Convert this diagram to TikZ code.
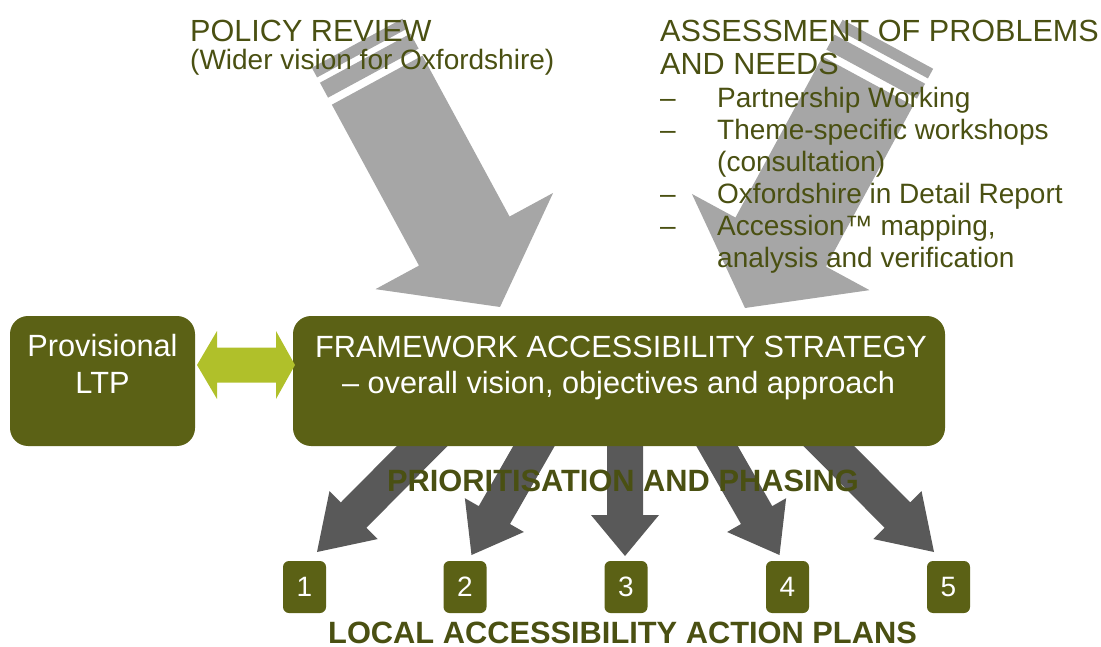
\documentclass[tikz,border=0pt]{standalone}
\usepackage{fontspec}
\setmainfont{Liberation Sans}
\usetikzlibrary{calc,backgrounds}

\definecolor{boxolive}{RGB}{91,97,21}
\definecolor{textolive}{RGB}{74,80,18}
\definecolor{inputgrey}{RGB}{166,166,166}
\definecolor{plangrey}{RGB}{89,89,89}
\definecolor{linkgreen}{RGB}{176,192,42}

\tikzset{
  headtext/.style={text=textolive, inner sep=0pt, anchor=base west, font=\fontsize{30.6}{36}\selectfont},
  listtext/.style={text=textolive, inner sep=0pt, anchor=base west, font=\fontsize{28}{34}\selectfont},
  boxtext/.style={text=white, inner sep=0pt, anchor=base, font=\fontsize{30.7}{36}\selectfont},
  bigtext/.style={text=textolive, inner sep=0pt, anchor=base, font=\fontsize{30.8}{36}\selectfont\bfseries},
  olivebox/.style={fill=boxolive, rounded corners=18pt, inner sep=0pt},
  planbox/.style={fill=boxolive, rounded corners=6pt, minimum width=43pt, minimum height=52pt,
    inner sep=0pt, text=white, font=\fontsize{28}{34}\selectfont},
}

% grey input arrow, two bands across the tail
\newcommand{\inputarrow}[2]{%
  \fill[inputgrey] let \p1=(#1), \p2=(#2), \n1={atan2(\y2-\y1,\x2-\x1)} in [shift={(#2)}, rotate=\n1]
    (0,0) -- (-75,101) -- (-75,51.5) -- (-258,51.5) -- (-258,-51.5) -- (-75,-51.5) -- (-75,-101) -- cycle
    (-266,-51.5) rectangle (-283,51.5)
    (-289,-51.5) rectangle (-300,51.5);}

% dark block arrow, strategy -> plan
\newcommand{\planarrow}[3]{%
  \fill[plangrey] let \p1=(#1), \p2=(#2), \n1={atan2(\y2-\y1,\x2-\x1)}, \n2={veclen(\x2-\x1,\y2-\y1)} in [shift={(#2)}, rotate=\n1]
    (0,0) -- (-#3,34) -- (-#3,18) -- (-\n2,18) -- (-\n2,-18) -- (-#3,-18) -- (-#3,-34) -- cycle;}

\begin{document}
\begin{tikzpicture}[x=1pt,y=-1pt]
	\useasboundingbox (0,0) rectangle (1101,647);

	% inputs
	\node[headtext] (policy) at (190,41.7) {POLICY REVIEW};
	\node[listtext] (vision) at (190,70) {(Wider vision for Oxfordshire)};
	\node[headtext] (assess) at (660,41.7) {ASSESSMENT OF PROBLEMS};
	\node[headtext] (needs) at (660,75) {AND NEEDS};
	\foreach \i/\yy/\txt in {1/108/Partnership Working, 2/140/Theme-specific workshops,
	    4/204/Oxfordshire in Detail Report, 5/236/{Accession™ mapping,}}{
		\node[listtext] (dash\i) at (660,\yy) {–};
		\node[listtext] (item\i) at (717,\yy) {\txt};
	}
	\node[listtext] (item3) at (717,172) {(consultation)};
	\node[listtext] (item6) at (717,268) {analysis and verification};

	% boxes
	\node[olivebox, minimum width=185pt, minimum height=130pt] (ltp) at (102.5,381) {};
	\node[boxtext] (ltp1) at (102.5,356.7) {Provisional};
	\node[boxtext] (ltp2) at (102.5,393.3) {LTP};
	\node[olivebox, minimum width=652pt, minimum height=130pt] (fas) at (619,381) {};
	\node[boxtext] (fas1) at (621,357) {FRAMEWORK ACCESSIBILITY STRATEGY};
	\node[boxtext] (fas2) at (618.5,393) {– overall vision, objectives and approach};

	\coordinate (la) at (197,365);
	\coordinate (lb) at (295,365);
	\fill[linkgreen] (la) -- ++(20,-34) -- ++(0,16.5) -- ($(lb)+(-19,-17.5)$) -- ++(0,-16.5) -- (lb)
		-- ++(-19,34) -- ++(0,-16.5) -- ($(la)+(20,17.5)$) -- ++(0,16.5) -- cycle;

	% plans
	\foreach \i/\xx in {1/304.5,2/465,3/626,4/787.5,5/948.5}
		\node[planbox] (n\i) at (\xx,587) {\i};
	\node[bigtext] (prio) at (623,491.7) {PRIORITISATION AND PHASING};
	\node[bigtext] (lap) at (622.5,643.5) {LOCAL ACCESSIBILITY ACTION PLANS};

	% arrows
	\coordinate (ptail) at (357,43);
	\coordinate (ptip) at (500,307);
	\coordinate (atail) at (888,44);
	\coordinate (atip) at (745,308);
	\foreach \i/\sx/\tx/\ty in {1/443/317/552, 2/546/471.5/555, 3/625/625/556, 4/705/779.5/555, 5/808/934/552}{
		\coordinate (s\i) at (\sx,425);
		\coordinate (t\i) at (\tx,\ty);
	}
	\begin{scope}[on background layer]
		\inputarrow{ptail}{ptip}
		\inputarrow{atail}{atip}
		\foreach \i/\hl in {1/52,2/46,3/41,4/46,5/52}
			\planarrow{s\i}{t\i}{\hl};
	\end{scope}
\end{tikzpicture}
\end{document}
